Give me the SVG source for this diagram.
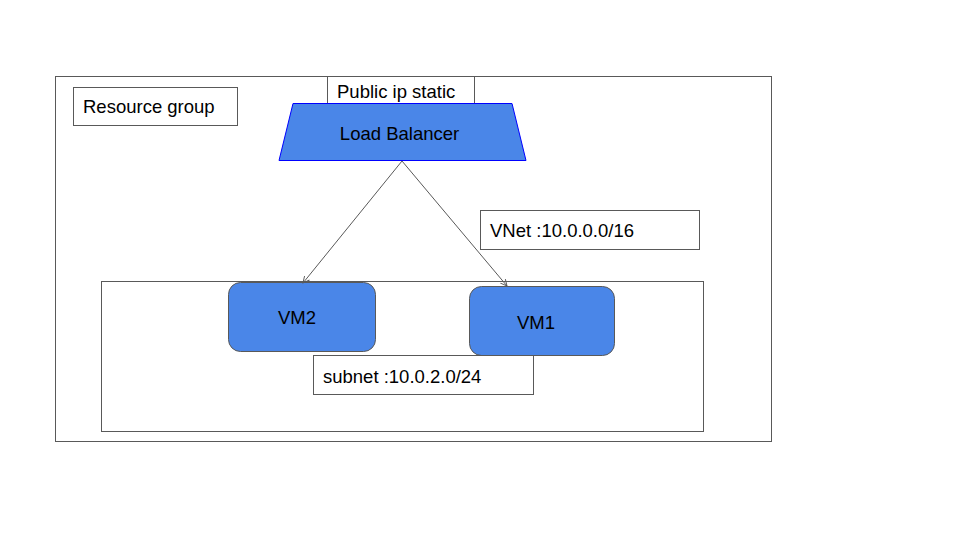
<svg xmlns="http://www.w3.org/2000/svg" width="960" height="540" viewBox="0 0 960 540">
<defs>
<style>
.box{fill:#ffffff;stroke:#595959;stroke-width:1}
.frame{fill:none;stroke:#595959;stroke-width:1}
.vm{fill:#4a86e8;stroke:#595959;stroke-width:1}
.t{font-family:"Liberation Sans",Arial,sans-serif;font-size:18.5px;fill:#000000}
.c{stroke:#595959;stroke-width:1;fill:none}
</style>
<marker id="ah" viewBox="0 0 10 10" refX="9" refY="5" markerWidth="8" markerHeight="8" orient="auto" markerUnits="userSpaceOnUse">
<path d="M1,1 L9,5 L1,9" fill="none" stroke="#595959" stroke-width="1.2"/>
</marker>
</defs>
<rect width="960" height="540" fill="#ffffff"/>
<g id="resource-group">
<rect class="frame" x="55.5" y="76.5" width="716" height="365"/>
</g>
<g id="subnet">
<rect class="frame" x="101.5" y="281.5" width="602" height="150"/>
</g>
<g id="resource-group-label">
<rect class="box" x="73.5" y="87.5" width="164" height="38"/>
<text class="t" x="83" y="113">Resource group</text>
</g>
<g id="public-ip">
<rect class="box" x="327.5" y="76.5" width="147" height="27"/>
<text class="t" x="337" y="98">Public ip static</text>
</g>
<g id="load-balancer">
<polygon points="293,103.5 512,103.5 526,160.5 279,160.5" fill="#4a86e8" stroke="#0000ff" stroke-width="1"/>
<text class="t" x="399.5" y="140" text-anchor="middle">Load Balancer</text>
</g>
<g id="vnet-label">
<rect class="box" x="480.5" y="210.5" width="219" height="39"/>
<text class="t" x="490" y="237">VNet :10.0.0.0/16</text>
</g>
<g id="vm2">
<rect class="vm" x="228.5" y="282.5" width="147" height="69" rx="12"/>
<text class="t" x="297" y="324" text-anchor="middle">VM2</text>
</g>
<g id="vm1">
<rect class="vm" x="469.5" y="286.5" width="145" height="69" rx="12"/>
<text class="t" x="536" y="329" text-anchor="middle">VM1</text>
</g>
<g id="subnet-label">
<rect class="box" x="313.5" y="355.5" width="220" height="39"/>
<text class="t" x="323" y="383">subnet :10.0.2.0/24</text>
</g>
<g id="connectors">
<line class="c" x1="402" y1="161" x2="303" y2="283" marker-end="url(#ah)"/>
<line class="c" x1="402" y1="161" x2="507" y2="286" marker-end="url(#ah)"/>
</g>
</svg>
